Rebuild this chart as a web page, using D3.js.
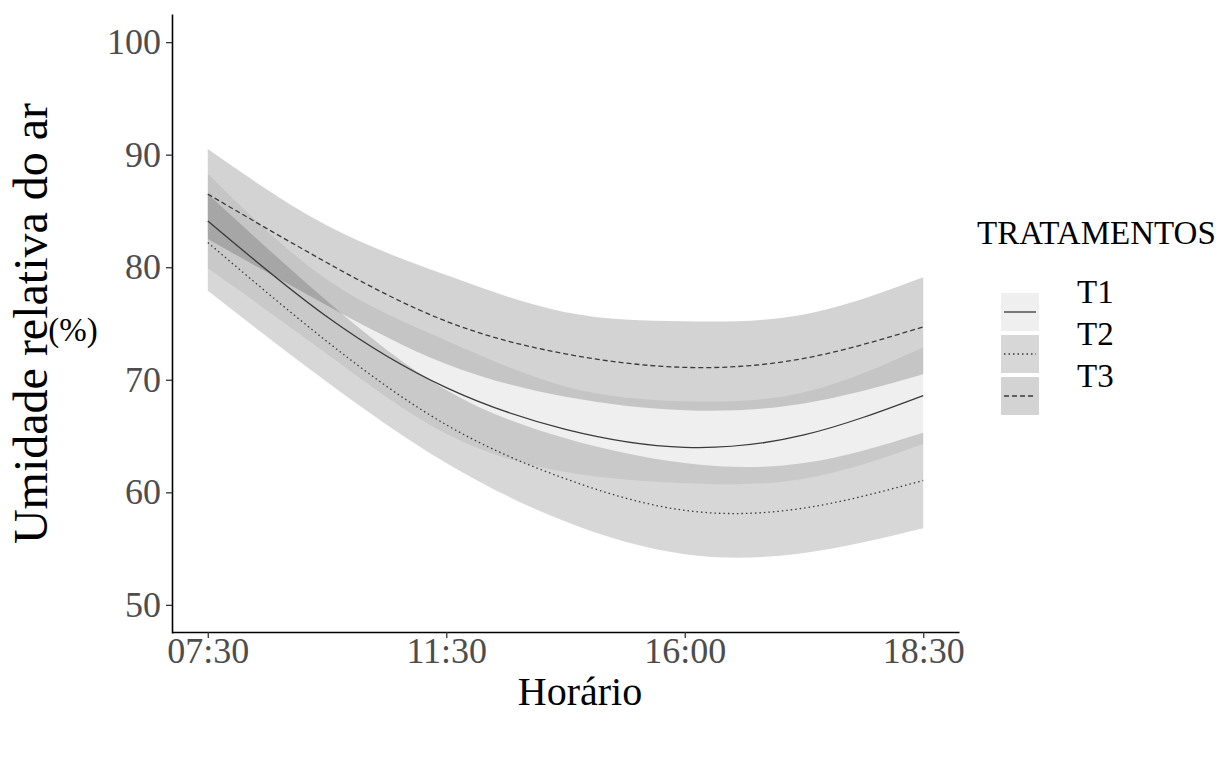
<!DOCTYPE html>
<html>
<head>
<meta charset="utf-8">
<script src="https://cdn.jsdelivr.net/npm/d3@7"></script>
<style>
  body { margin: 0; background: #fff; }
  svg { display: block; font-family: "Liberation Serif", "DejaVu Serif", serif; }
</style>
</head>
<body>
<div id="chart"></div>
<script>
// tick labels for the four measurement times (placed at 1..4)
const xLabels = ['07:30', '11:30', '16:00', '18:30'];
const xTicks = [1, 2, 3, 4];
const yTicks = [50, 60, 70, 80, 90, 100];

const xPos = [1, 1.5, 2, 2.5, 3, 3.5, 4];

// T1 (solid)
const t1Fit  = [84.1, 75.6, 69.3, 65.6, 64.0, 65.1, 68.6];
const t1Low  = [79.9, 72.3, 65.2, 61.8, 60.8, 61.2, 64.3];
const t1High = [88.3, 78.9, 73.5, 69.4, 68.1, 68.9, 72.9];

// T2 (dotted)
const t2Fit  = [82.2, 73.4, 66.0, 61.2, 58.4, 58.6, 61.05];
const t2Low  = [77.9, 69.8, 62.6, 57.4, 54.5, 54.6, 56.8];
const t2High = [86.5, 77.0, 69.1, 64.8, 62.6, 62.6, 65.3];

// T3 (dashed)
const t3Fit  = [86.5, 80.4, 75.2, 72.3, 71.1, 71.9, 74.7];
const t3Low  = [82.5, 76.6, 71.4, 68.5, 67.3, 67.9, 70.5];
const t3High = [90.5, 83.7, 79.3, 76.0, 75.2, 75.8, 79.1];

const treatments = ['T1', 'T2', 'T3'];

const width = 1220, height = 760;
const margin = { top: 14, right: 261, bottom: 128, left: 172 };

const series = [
  { name: 'T1', fit: t1Fit, low: t1Low, high: t1High, alpha: 0.063, dash: null },
  { name: 'T2', fit: t2Fit, low: t2Low, high: t2High, alpha: 0.157, dash: '1.5,3' },
  { name: 'T3', fit: t3Fit, low: t3Low, high: t3High, alpha: 0.173, dash: '5,3' }
];

const svg = d3.select('#chart').append('svg')
  .attr('width', width)
  .attr('height', height);

const x = d3.scaleLinear()
  .domain([0.85, 4.15])
  .range([margin.left, width - margin.right]);

const y = d3.scaleLinear()
  .domain([47.5, 102.5])
  .range([height - margin.bottom + 1, margin.top]);

// confidence ribbons
const area = d3.area()
  .x((d, i) => x(xPos[i]))
  .y0(d => y(d[0]))
  .y1(d => y(d[1]))
  .curve(d3.curveNatural);

series.forEach(s => {
  svg.append('path')
    .datum(s.low.map((v, i) => [v, s.high[i]]))
    .attr('fill', '#000')
    .attr('fill-opacity', s.alpha)
    .attr('d', area);
});

// fitted lines
const line = d3.line()
  .x((d, i) => x(xPos[i]))
  .y(d => y(d))
  .curve(d3.curveNatural);

series.forEach(s => {
  svg.append('path')
    .datum(s.fit)
    .attr('fill', 'none')
    .attr('stroke', '#3a3a3a')
    .attr('stroke-width', 1.3)
    .attr('stroke-dasharray', s.dash)
    .attr('d', line);
});

// axes
const xAxis = svg.append('g')
  .attr('transform', `translate(0,${height - margin.bottom})`)
  .call(d3.axisBottom(x).tickValues(xTicks).tickFormat((d, i) => xLabels[i])
    .tickSize(6).tickSizeOuter(0).tickPadding(3));

const yAxis = svg.append('g')
  .attr('transform', `translate(${margin.left},0)`)
  .call(d3.axisLeft(y).tickValues(yTicks).tickSize(6).tickSizeOuter(0).tickPadding(5));

[xAxis, yAxis].forEach(g => {
  g.select('.domain').attr('stroke', '#000').attr('stroke-width', 1.6);
  g.selectAll('.tick line').attr('stroke', '#333').attr('stroke-width', 1.3);
  g.selectAll('.tick text')
    .attr('fill', '#4d4d4d')
    .style('font-family', '"Liberation Serif", serif')
    .style('font-size', '36px');
});
xAxis.selectAll('.tick text').attr('dy', '0.62em');

// axis titles
svg.append('text')
  .attr('x', 580)
  .attr('y', 705)
  .attr('text-anchor', 'middle')
  .style('font-size', '40px')
  .text('Horário');

svg.append('text')
  .attr('transform', `translate(47,${y(75)}) rotate(-90)`)
  .attr('text-anchor', 'middle')
  .style('font-size', '48px')
  .text('Umidade relativa do ar');

svg.append('text')
  .attr('x', 73)
  .attr('y', 341)
  .attr('text-anchor', 'middle')
  .style('font-size', '33px')
  .text('(%)');

// legend
const legend = svg.append('g');
legend.append('text')
  .attr('x', 977)
  .attr('y', 244)
  .style('font-size', '33px')
  .text('TRATAMENTOS');

const keyX = 1001, keyW = 38, keyH = 38, keyY0 = 293, keyStep = 42;
series.forEach((s, i) => {
  const ky = keyY0 + i * keyStep;
  legend.append('rect')
    .attr('x', keyX).attr('y', ky)
    .attr('width', keyW).attr('height', keyH)
    .attr('fill', '#000')
    .attr('fill-opacity', s.alpha);
  legend.append('line')
    .attr('x1', keyX + 3).attr('x2', keyX + keyW - 3)
    .attr('y1', ky + keyH / 2).attr('y2', ky + keyH / 2)
    .attr('stroke', '#3a3a3a')
    .attr('stroke-width', 1.3)
    .attr('stroke-dasharray', s.dash);
  legend.append('text')
    .attr('x', 1077)
    .attr('y', ky + 10)
    .style('font-size', '33px')
    .text(treatments[i]);
});
</script>
</body>
</html>
